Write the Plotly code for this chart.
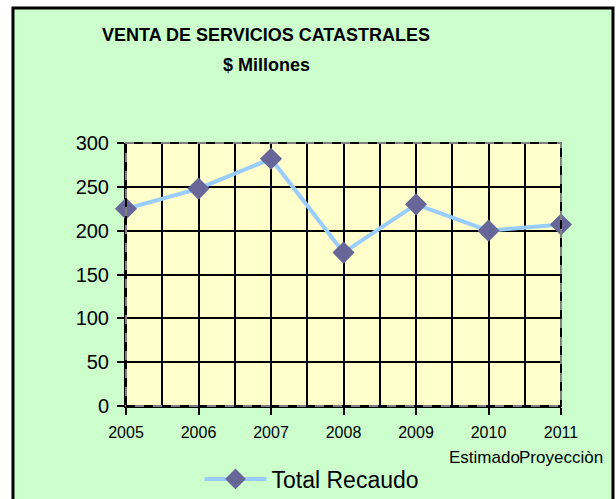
import plotly.graph_objects as go

years = [2005, 2006, 2007, 2008, 2009, 2010, 2011]
year_labels = ["2005", "2006", "2007", "2008", "2009", "2010", "2011"]
sub_labels = {2010: "Estimado", 2011: "Proyecciòn"}
total_recaudo = [225, 248, 282, 175, 230, 200, 207]
y_ticks = [0, 50, 100, 150, 200, 250, 300]

FONT = "Liberation Sans, Arial, sans-serif"
LINE_COLOR = "#99CCFF"

fig = go.Figure()
fig.add_trace(go.Scatter(
    x=years, y=total_recaudo, mode="lines+markers", name="Total Recaudo",
    line=dict(color=LINE_COLOR, width=4),
    marker=dict(symbol="diamond", size=17, color="#666699", line=dict(width=0)),
    cliponaxis=False,
))

shapes = [
    dict(type="rect", xref="paper", yref="paper", x0=-0.2598, x1=1.1195, y0=-0.5, y1=1.5133,
         fillcolor="#CCFFCC", line=dict(color="black", width=3), layer="below"),
    dict(type="rect", xref="paper", yref="paper", x0=0, x1=1, y0=0, y1=1,
         fillcolor="#FFFFCC", line=dict(width=0), layer="below"),
    dict(type="rect", xref="paper", yref="paper", x0=0, x1=1, y0=0, y1=1,
         line=dict(color="#808080", width=2), layer="above"),
    dict(type="rect", xref="paper", yref="paper", x0=0, x1=1, y0=0, y1=1,
         line=dict(color="black", width=2, dash="dash"), layer="above"),
    # longer legend line sample behind the legend symbol
    dict(type="line", xref="paper", yref="paper", x0=0.1862, x1=0.3149, y0=-0.2776, y1=-0.2776,
         line=dict(color=LINE_COLOR, width=4), layer="above"),
]

annotations = [
    dict(text="<b>VENTA DE SERVICIOS CATASTRALES</b>", xref="paper", yref="paper",
         x=0.322, y=1.4106, showarrow=False, font=dict(size=18, color="black", family=FONT),
         xanchor="center", yanchor="middle"),
    dict(text="<b>$ Millones</b>", xref="paper", yref="paper",
         x=0.322, y=1.2966, showarrow=False, font=dict(size=18, color="black", family=FONT),
         xanchor="center", yanchor="middle"),
]
shifts = {2010: -4, 2011: 0}
for yr, lab in sub_labels.items():
    annotations.append(dict(text=lab, xref="x", yref="paper", x=yr, y=-0.194,
                            xshift=shifts[yr], showarrow=False,
                            font=dict(size=17, color="black", family=FONT),
                            xanchor="center", yanchor="middle"))

fig.update_layout(
    width=616, height=528,
    margin=dict(l=126, r=55, t=143, b=122, pad=0),
    paper_bgcolor="white", plot_bgcolor="rgba(0,0,0,0)",
    font=dict(family=FONT, color="black"),
    shapes=shapes, annotations=annotations,
    showlegend=True,
    legend=dict(orientation="h", x=0.4276, y=-0.2776, xanchor="center", yanchor="middle",
                itemwidth=62,
                font=dict(size=23, family=FONT, color="black"), bgcolor="rgba(0,0,0,0)"),
    xaxis=dict(range=[2005, 2011], tickvals=years, ticktext=year_labels,
               showgrid=True, gridcolor="black", gridwidth=2,
               minor=dict(dtick=0.5, tick0=2005, showgrid=True, gridcolor="black", gridwidth=2, ticklen=0),
               showline=True, linecolor="black", linewidth=2,
               ticks="outside", ticklen=7, tickwidth=2, tickcolor="black",
               tickfont=dict(size=16, family=FONT, color="black"), ticklabelstandoff=4,
               zeroline=False, layer="below traces", fixedrange=True),
    yaxis=dict(range=[0, 300], tickvals=y_ticks,
               showgrid=True, gridcolor="black", gridwidth=2,
               showline=True, linecolor="black", linewidth=2,
               ticks="outside", ticklen=7, tickwidth=2, tickcolor="black",
               tickfont=dict(size=20, family=FONT, color="black"), ticklabelstandoff=4,
               zeroline=False, layer="below traces", fixedrange=True),
)

fig.write_html(
    "out.html",
    config={"displayModeBar": False},
    post_script=(
        "document.documentElement.style.overflow='hidden';"
        "document.body.style.margin='0';"
        "document.body.style.overflow='hidden';"
    ),
)
